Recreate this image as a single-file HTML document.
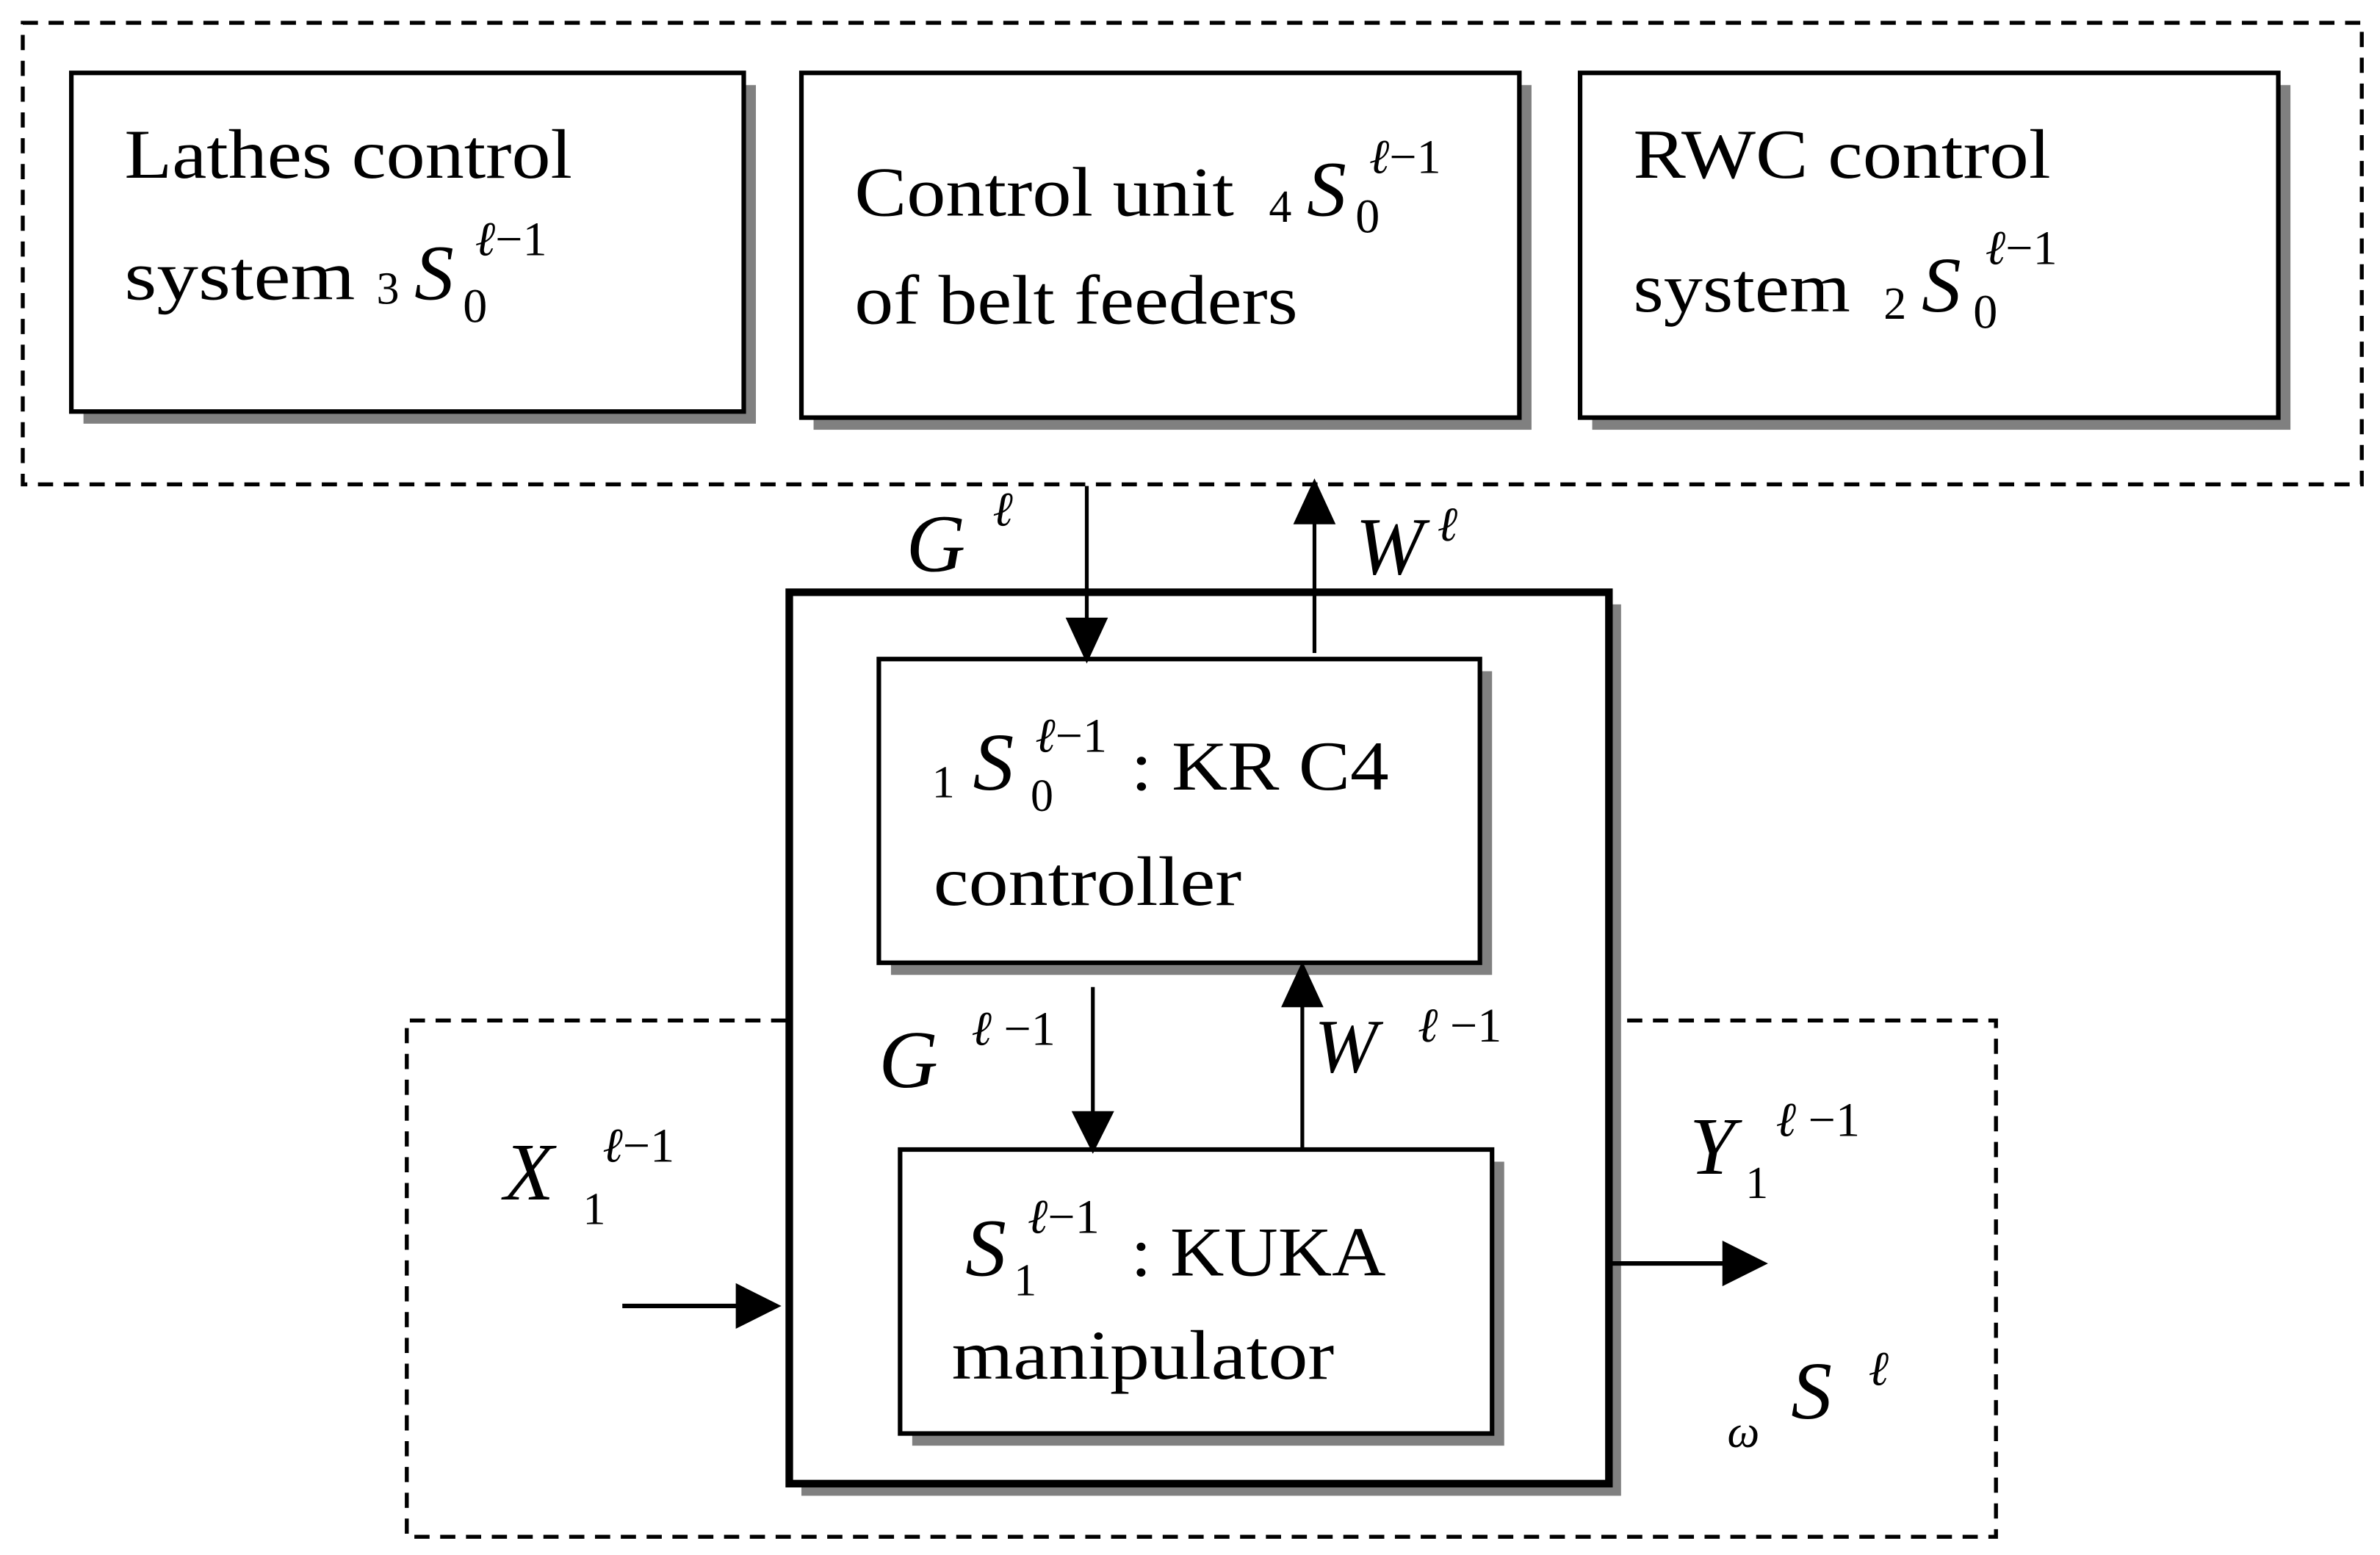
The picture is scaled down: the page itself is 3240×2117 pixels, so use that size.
<!DOCTYPE html>
<html><head><style>html,body{margin:0;padding:0;background:#fff;}svg{display:block;font-family:"Liberation Serif",serif}</style></head>
<body>
<svg width="3240" height="2117" viewBox="0 0 1568 1024" preserveAspectRatio="none" xmlns="http://www.w3.org/2000/svg" style="font-family:'Liberation Serif',serif">
<g fill="none" stroke="#000" stroke-width="2.6" stroke-dasharray="10,7">
<rect x="15" y="15" width="1541" height="304"/>
<path d="M518,672 L268,672 L268,1012 L1315,1012 L1315,672 L1062,672"/>
</g>
<g fill="#808080">
<rect x="55" y="56" width="443" height="223"/>
<rect x="536" y="56" width="473" height="227"/>
<rect x="1049" y="56" width="460" height="227"/>
<rect x="528" y="398" width="540" height="587"/>
</g>
<rect x="520" y="390" width="540" height="587" fill="#fff" stroke="#000" stroke-width="5"/>
<g fill="#808080">
<rect x="587" y="442" width="396" height="200"/>
<rect x="601" y="765" width="390" height="187"/>
</g>
<g fill="#fff" stroke="#000" stroke-width="3">
<rect x="47" y="48" width="443" height="223"/>
<rect x="528" y="48" width="473" height="227"/>
<rect x="1041" y="48" width="460" height="227"/>
<rect x="579" y="434" width="396" height="200"/>
<rect x="593" y="757" width="390" height="187"/>
</g>
<g stroke="#000" stroke-width="2.5" fill="#000">
<line x1="716" y1="320" x2="716" y2="410"/><path d="M704,408 L728,408 L716,434 z"/>
<line x1="866" y1="430" x2="866" y2="340"/><path d="M854,344 L878,344 L866,318 z"/>
<line x1="720" y1="650" x2="720" y2="735"/><path d="M708,733 L732,733 L720,757 z"/>
<line x1="858" y1="757" x2="858" y2="660"/><path d="M846,662 L870,662 L858,636 z"/>
<line x1="410" y1="860" x2="490" y2="860" stroke-width="3"/><path d="M486,847 L512,860 L486,873 z"/>
<line x1="1062" y1="832" x2="1140" y2="832" stroke-width="3"/><path d="M1136,819 L1162,832 L1136,845 z"/>
</g>
<g fill="#000" font-size="46">
<text x="82" y="117" textLength="295" lengthAdjust="spacingAndGlyphs">Lathes control</text>
<text x="82" y="197" textLength="152" lengthAdjust="spacingAndGlyphs">system</text>
<text x="248" y="200" font-size="30">3</text>
<text x="273" y="197" font-size="52" font-style="italic">S</text>
<text x="313" y="168" font-size="32"><tspan font-style="italic">ℓ</tspan>−1</text>
<text x="305" y="212" font-size="32">0</text>

<text x="563" y="142" textLength="250" lengthAdjust="spacingAndGlyphs">Control unit</text>
<text x="836" y="146" font-size="30">4</text>
<text x="861" y="142" font-size="52" font-style="italic">S</text>
<text x="902" y="114" font-size="32"><tspan font-style="italic">ℓ</tspan>−1</text>
<text x="893" y="153" font-size="32">0</text>
<text x="563" y="213" textLength="292" lengthAdjust="spacingAndGlyphs">of belt feeders</text>

<text x="1076" y="117" textLength="275" lengthAdjust="spacingAndGlyphs">RWC control</text>
<text x="1076" y="205" textLength="143" lengthAdjust="spacingAndGlyphs">system</text>
<text x="1241" y="210" font-size="30">2</text>
<text x="1266" y="205" font-size="52" font-style="italic">S</text>
<text x="1308" y="174" font-size="32"><tspan font-style="italic">ℓ</tspan>−1</text>
<text x="1300" y="216" font-size="32">0</text>

<text x="614" y="525" font-size="30">1</text>
<text x="641" y="520" font-size="54" font-style="italic">S</text>
<text x="682" y="495" font-size="32"><tspan font-style="italic">ℓ</tspan>−1</text>
<text x="679" y="534" font-size="30">0</text>
<text x="745" y="520" textLength="170" lengthAdjust="spacingAndGlyphs">: KR C4</text>
<text x="615" y="596" textLength="203" lengthAdjust="spacingAndGlyphs">controller</text>

<text x="636" y="840" font-size="54" font-style="italic">S</text>
<text x="677" y="812" font-size="32"><tspan font-style="italic">ℓ</tspan>−1</text>
<text x="668" y="853" font-size="30">1</text>
<text x="745" y="840" textLength="168" lengthAdjust="spacingAndGlyphs">: KUKA</text>
<text x="627" y="908" textLength="252" lengthAdjust="spacingAndGlyphs">manipulator</text>

<text x="597" y="376" font-size="54" font-style="italic">G</text>
<text x="654" y="346" font-size="32" font-style="italic">ℓ</text>
<text x="893" y="378" font-size="54" font-style="italic">W</text>
<text x="947" y="356" font-size="32" font-style="italic">ℓ</text>

<text x="579" y="716" font-size="54" font-style="italic">G</text>
<text x="640" y="688" font-size="32"><tspan font-style="italic">ℓ</tspan> −1</text>
<text x="866" y="706" font-size="50" font-style="italic">W</text>
<text x="934" y="686" font-size="32"><tspan font-style="italic">ℓ</tspan> −1</text>

<text x="332" y="790" font-size="54" font-style="italic">X</text>
<text x="397" y="765" font-size="32"><tspan font-style="italic">ℓ</tspan>−1</text>
<text x="384" y="806" font-size="30">1</text>
<text x="1113" y="773" font-size="54" font-style="italic">Y</text>
<text x="1170" y="748" font-size="32"><tspan font-style="italic">ℓ</tspan> −1</text>
<text x="1150" y="789" font-size="30">1</text>

<text x="1138" y="953" font-size="30" font-style="italic">ω</text>
<text x="1180" y="934" font-size="54" font-style="italic">S</text>
<text x="1231" y="912" font-size="32" font-style="italic">ℓ</text>
</g>
</svg>
</body></html>
